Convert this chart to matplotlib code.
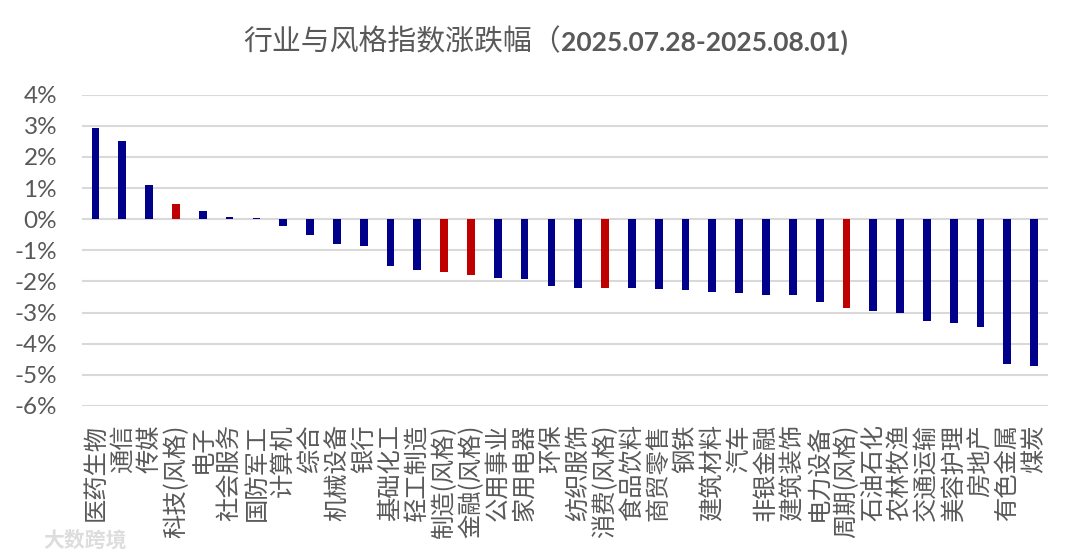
import numpy as np
import matplotlib
matplotlib.use("Agg")
import matplotlib.pyplot as plt

# 行业与风格指数涨跌幅 (%)
categories = [
    "医药生物", "通信", "传媒", "科技(风格)", "电子", "社会服务", "国防军工", "计算机",
    "综合", "机械设备", "银行", "基础化工", "轻工制造", "制造(风格)", "金融(风格)",
    "公用事业", "家用电器", "环保", "纺织服饰", "消费(风格)", "食品饮料", "商贸零售",
    "钢铁", "建筑材料", "汽车", "非银金融", "建筑装饰", "电力设备", "周期(风格)",
    "石油石化", "农林牧渔", "交通运输", "美容护理", "房地产", "有色金属", "煤炭",
]
values = [
    2.92, 2.52, 1.09, 0.50, 0.25, 0.06, 0.05, -0.22,
    -0.50, -0.80, -0.87, -1.50, -1.62, -1.70, -1.78,
    -1.89, -1.91, -2.14, -2.20, -2.20, -2.21, -2.25,
    -2.29, -2.34, -2.38, -2.42, -2.44, -2.67, -2.84,
    -2.96, -3.00, -3.27, -3.34, -3.47, -4.64, -4.70,
]
yticks = [4, 3, 2, 1, 0, -1, -2, -3, -4, -5, -6]

BLUE = "#00008B"
RED = "#C00000"
GREY = "#595959"
CJK = ['Noto Sans CJK SC', 'DejaVu Sans']

plt.rcParams['font.family'] = ['Lato', 'Noto Sans CJK SC', 'DejaVu Sans']

fig = plt.figure(figsize=(10.8, 5.6), dpi=100)
ax = fig.add_axes([0.076, 0.275, 0.894, 0.556])

colors = [RED if "风格" in c else BLUE for c in categories]
x = np.arange(len(categories))
ax.bar(x, values, width=0.29, color=colors, zorder=3)

ax.set_xlim(-0.5, len(categories) - 0.5)
ax.set_ylim(-6, 4)
ax.set_yticks(yticks)
ax.set_yticklabels(["{}%".format(t) for t in yticks], fontsize=17.5, color=GREY)
ax.set_xticks(x)
ax.set_xticklabels(categories, rotation=90, fontsize=17.5, color=GREY, family=CJK)
ax.tick_params(axis='both', length=0)
ax.tick_params(axis='y', pad=18)
ax.tick_params(axis='x', pad=13)

ax.grid(axis='y', color="#D9D9D9", lw=1.5, zorder=0)
for s in ax.spines.values():
    s.set_visible(False)

# titulo en dos partes
fig.text(0.519, 0.925, "行业与风格指数涨跌幅（", ha='right', va='center',
         fontsize=20.8, color=GREY, family=CJK)
fig.text(0.519, 0.925, "2025.07.28-2025.08.01)", ha='left', va='center',
         fontsize=19, color=GREY, fontweight='bold')

# marca de agua
fig.text(0.04, 0.035, "大数跨境", ha='left', va='center', fontsize=15,
         color="#DDDDDD", family=CJK, fontweight='bold')

fig.savefig("out.png", dpi=100)
